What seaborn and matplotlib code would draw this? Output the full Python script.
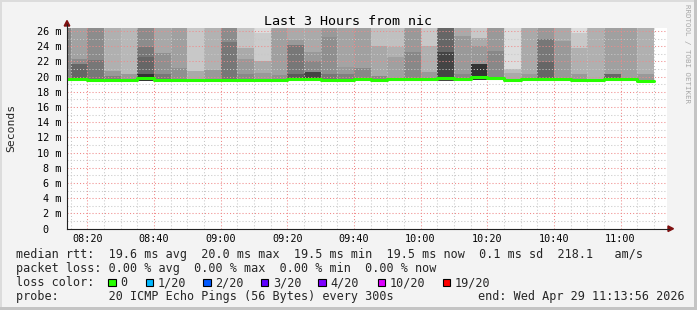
import matplotlib
matplotlib.use("Agg")
import matplotlib.pyplot as plt
import seaborn as sns
import numpy as np
from matplotlib.patches import Rectangle, Polygon
from matplotlib.lines import Line2D

# ---------------- data ----------------
view_start = "08:13:56"
view_end = "11:13:56"

bin_start = ["08:10", "08:15", "08:20", "08:25", "08:30", "08:35", "08:40", "08:45",
             "08:50", "08:55", "09:00", "09:05", "09:10", "09:15", "09:20", "09:25",
             "09:30", "09:35", "09:40", "09:45", "09:50", "09:55", "10:00", "10:05",
             "10:10", "10:15", "10:20", "10:25", "10:30", "10:35", "10:40", "10:45",
             "10:50", "10:55", "11:00", "11:05"]

median_rtt = [19.65, 19.65, 19.6, 19.6, 19.6, 19.8, 19.6, 19.6, 19.6, 19.55, 19.55, 19.6,
              19.6, 19.6, 19.7, 19.7, 19.6, 19.6, 19.7, 19.5, 19.7, 19.7, 19.7, 19.8,
              19.7, 20.0, 19.8, 19.55, 19.7, 19.7, 19.7, 19.5, 19.5, 19.7, 19.75, 19.45]

smoke_low = [19.5, 19.5, 19.45, 19.45, 19.45, 19.4, 19.45, 19.45, 19.45, 19.4, 19.4, 19.45,
             19.45, 19.45, 19.55, 19.55, 19.45, 19.45, 19.55, 19.3, 19.55, 19.55, 19.55, 19.4,
             19.55, 19.6, 19.65, 19.4, 19.55, 19.55, 19.55, 19.35, 19.35, 19.55, 19.6, 19.3]

# smoke bands (outer -> inner): top value (ms) and grey level (0-255)
band1_top = [27.0] * 36
band1_grey = [0x88, 0xa2, 0x8c, 0xb0, 0xb8, 0x8c, 0xa8, 0xa0, 0xc8, 0xb2, 0x8c, 0xc4,
              0xdd, 0xa0, 0xaa, 0xaa, 0x99, 0xa4, 0xa0, 0xc0, 0xc0, 0x99, 0xc8, 0x66,
              0xaa, 0xc8, 0x99, 0xdd, 0xaa, 0x99, 0xaa, 0xdd, 0xb0, 0xa0, 0xa0, 0xb0]

band2_top = [None, 22.3, 22.2, 20.8, 20.3, 23.9, 23.1, 21.1, 20.8, 20.9, 24.5, 23.8,
             25.7, 20.2, 24.8, 23.2, 25.2, 21.3, 21.1, 24.0, 23.9, 23.2, 24.0, 23.3,
             25.4, 25.1, 23.4, 21.0, 20.3, 25.0, 24.7, 25.7, None, 20.35, None, 20.3]
band2_grey = [0, 0x8c, 0x77, 0x99, 0x99, 0x77, 0x90, 0x90, 0xaa, 0x99, 0x77, 0xaa,
              0xcc, 0x90, 0x99, 0x99, 0x8f, 0x99, 0x88, 0xa8, 0xb0, 0x88, 0xb0, 0x44,
              0x99, 0xaa, 0x88, 0xbb, 0x99, 0x77, 0x99, 0xc8, 0, 0x66, 0, 0x99]

band3_top = [None, 21.7, None, 20.1, None, 22.6, 20.4, None, None, None, None, 22.3,
             22.1, None, 24.1, 22.0, 20.4, 20.3, None, 20.1, 22.65, None, 20.6, None,
             20.35, 24.0, None, 20.5, None, 21.95, None, 23.8, None, None, None, None]
band3_grey = [0, 0x66, 0, 0x80, 0, 0x66, 0x77, 0, 0, 0, 0, 0x99,
              0xaa, 0, 0x77, 0x88, 0x77, 0x80, 0, 0x88, 0xa0, 0, 0x99, 0,
              0x88, 0x99, 0, 0xaa, 0, 0x66, 0, 0xb0, 0, 0, 0, 0]

band4_top = [None, None, None, None, None, 20.4, None, None, None, None, None, 20.35,
             20.5, None, 20.4, 20.6, None, None, None, None, None, None, None, None,
             None, 21.6, None, None, None, None, None, 20.35, None, None, None, None]
band4_grey = [0, 0, 0, 0, 0, 0x33, 0, 0, 0, 0, 0, 0x88,
              0x99, 0, 0x5a, 0x44, 0, 0, 0, 0, 0, 0, 0, 0,
              0, 0x33, 0, 0, 0, 0, 0, 0x99, 0, 0, 0, 0]

x_tick_labels = ["08:20", "08:40", "09:00", "09:20", "09:40", "10:00", "10:20", "10:40", "11:00"]
y_tick_values = [0, 2, 4, 6, 8, 10, 12, 14, 16, 18, 20, 22, 24, 26]

loss_labels = ["0", "1/20", "2/20", "3/20", "4/20", "10/20", "19/20"]
loss_colors = ["#26ff00", "#00b8ff", "#0059ff", "#5e00ff", "#7e00ff", "#dd00ff", "#ff0000"]

legend_rtt = "median rtt:  19.6 ms avg  20.0 ms max  19.5 ms min  19.5 ms now  0.1 ms sd  218.1   am/s"
legend_loss = "packet loss: 0.00 % avg  0.00 % max  0.00 % min  0.00 % now"
legend_color = "loss color:"
legend_probe = "probe:       20 ICMP Echo Pings (56 Bytes) every 300s"
legend_end = "end: Wed Apr 29 11:13:56 2026"
title = "Last 3 Hours from nic"


def to_min(s):
    parts = [int(p) for p in s.split(":")]
    while len(parts) < 3:
        parts.append(0)
    return parts[0] * 60 + parts[1] + parts[2] / 60.0


# ---------------- figure ----------------
sns.set_style("white")
mono = ["DejaVu Sans Mono"]
plt.rcParams["font.family"] = mono

W, H = 697, 310
fig = plt.figure(figsize=(W / 100, H / 100), dpi=100, facecolor="#f3f3f3")


def fx(x):
    return x / W


def fy(y):
    return 1 - y / H


PL, PR, PT, PB = 67, 667, 28, 228.7
ax = fig.add_axes([fx(PL), fy(PB), (PR - PL) / W, (PB - PT) / H])
ax.set_facecolor("white")

xs = np.array([to_min(s) for s in bin_start])
med = np.array(median_rtt)
low = np.array(smoke_low)

for tops, greys in [(band1_top, band1_grey), (band2_top, band2_grey),
                    (band3_top, band3_grey), (band4_top, band4_grey)]:
    sel = [i for i, t in enumerate(tops) if t is not None]
    t = np.array([tops[i] for i in sel])
    b = low[sel]
    cols = ["#%02x%02x%02x" % (greys[i], greys[i], greys[i]) for i in sel]
    ax.bar(xs[sel], t - b, bottom=b, width=5, align="edge", color=cols,
           linewidth=0, zorder=1)

# median line (steps)
mx = np.append(xs, xs[-1] + 5)
my = np.append(med, med[-1])
sns.lineplot(x=mx, y=my, drawstyle="steps-post", color="#26ff00", linewidth=2.2,
             ax=ax, zorder=3, estimator=None, sort=False)

x0, x1 = to_min(view_start), to_min(view_end)
ax.set_xlim(x0, x1)
ax.set_ylim(0, 26.4)

ax.set_xticks([to_min(s) for s in x_tick_labels])
ax.set_xticklabels(x_tick_labels)
ax.set_xticks(np.arange(np.ceil(x0 / 5) * 5, x1, 5), minor=True)
ax.set_yticks(y_tick_values)
ax.set_yticklabels([("%d m" % v) if v else "0  " for v in y_tick_values])
ax.set_yticks(np.arange(1, 26.4, 2), minor=True)

ax.set_axisbelow(False)
ax.grid(which="major", color="#f08a8a", linestyle=(0, (1, 2)), linewidth=0.75)
ax.grid(which="minor", color="#c8c8c8", linestyle=(0, (1, 2)), linewidth=0.75)

ax.tick_params(which="major", direction="inout", length=3, width=0.7, color="#555555",
               labelsize=7.3, pad=2.5, labelcolor="#000000")
ax.tick_params(which="minor", direction="inout", length=2, width=0.6, color="#888888")

for s in ["top", "right"]:
    ax.spines[s].set_visible(False)
for s in ["left", "bottom"]:
    ax.spines[s].set_color("#222222")
    ax.spines[s].set_linewidth(0.8)
    ax.spines[s].set_zorder(4)
ax.set_xlabel("")
ax.set_ylabel("")

# axis extensions and arrows
fig.add_artist(Line2D([fx(PL), fx(PL)], [fy(PT), fy(24)], color="#222222", lw=0.8))
fig.add_artist(Line2D([fx(PR), fx(669)], [fy(PB), fy(PB)], color="#222222", lw=0.8))
fig.add_artist(Polygon([(fx(64.2), fy(26)), (fx(69.8), fy(26)), (fx(67), fy(20.5))],
                       closed=True, color="#7f1010", transform=fig.transFigure))
fig.add_artist(Polygon([(fx(668), fy(PB - 2.8)), (fx(668), fy(PB + 2.8)), (fx(673.5), fy(PB))],
                       closed=True, color="#7f1010", transform=fig.transFigure))

# title and axis label
fig.text(fx(348.5), fy(25), title, ha="center", va="baseline", fontsize=9.6, color="#000000")
fig.text(fx(11), fy(128), "Seconds", rotation=90, ha="center", va="center", fontsize=8.2)
fig.text(fx(687), fy(4), "RRDTOOL / TOBI OETIKER", rotation=270, ha="center", va="top",
         fontsize=5.4, color="#a8a8a8")

# legend lines
LFS = 8.5
fig.text(fx(16), fy(258), legend_rtt, ha="left", va="baseline", fontsize=LFS)
fig.text(fx(16), fy(272), legend_loss, ha="left", va="baseline", fontsize=LFS)
fig.text(fx(16), fy(286), legend_color, ha="left", va="baseline", fontsize=LFS)
sq_x = [108.3, 145.7, 203.3, 260.7, 318.3, 377.7, 442.7]
for lab, col, x in zip(loss_labels, loss_colors, sq_x):
    fig.add_artist(Rectangle((fx(x), fy(286.2)), 7.6 / W, 7.7 / H, facecolor=col,
                             edgecolor="#000000", linewidth=0.8, transform=fig.transFigure))
    fig.text(fx(x + 12), fy(286), lab, ha="left", va="baseline", fontsize=LFS)
fig.text(fx(16), fy(300), legend_probe, ha="left", va="baseline", fontsize=LFS)
fig.text(fx(478), fy(300), legend_end, ha="left", va="baseline", fontsize=LFS)

# frame shading
fig.add_artist(Rectangle((0, fy(2)), 1, 2 / H, facecolor="#dcdcdc", linewidth=0, transform=fig.transFigure))
fig.add_artist(Rectangle((0, 0), 2 / W, 1, facecolor="#dcdcdc", linewidth=0, transform=fig.transFigure))
fig.add_artist(Rectangle((0, 0), 1, 3 / H, facecolor="#c4c4c4", linewidth=0, transform=fig.transFigure))
fig.add_artist(Rectangle((fx(694), 0), 3 / W, 1, facecolor="#c4c4c4", linewidth=0, transform=fig.transFigure))

fig.savefig("out.png", dpi=100, facecolor=fig.get_facecolor())
